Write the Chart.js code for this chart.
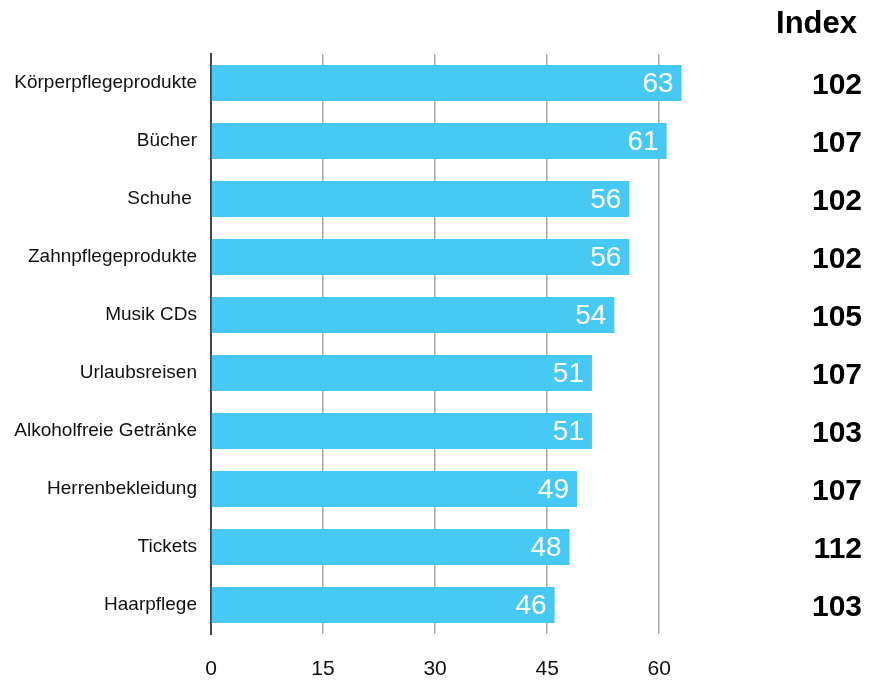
<!DOCTYPE html>
<html>
<head>
<meta charset="utf-8">
<script src="https://cdn.jsdelivr.net/npm/chart.js@4/dist/chart.umd.min.js"></script>
<style>
    html, body { margin: 0; padding: 0; background: #fff; }
    #wrap { width: 870px; height: 680px; }
</style>
</head>
<body>
<div id="wrap"><canvas id="myChart"></canvas></div>
<script>
const categories = [
    'Körperpflegeprodukte',
    'Bücher',
    'Schuhe ',
    'Zahnpflegeprodukte',
    'Musik CDs',
    'Urlaubsreisen',
    'Alkoholfreie Getränke',
    'Herrenbekleidung',
    'Tickets',
    'Haarpflege',
];
const shares = [63, 61, 56, 56, 54, 51, 51, 49, 48, 46];
const indexValues = [102, 107, 102, 102, 105, 107, 103, 107, 112, 103];
const xTicks = [0, 15, 30, 45, 60];
const indexTitle = 'Index';

const FONT = '"Liberation Sans", Arial, sans-serif';

/**
 * Writes the values into the bars and the index column on the right.
 */
const labelPlugin = {
    id: 'labels',
    afterDatasetsDraw: (chart) => {
        const ctx = chart.ctx;
        const meta = chart.getDatasetMeta(0);
        const yScale = chart.scales.y;

        ctx.save();
        ctx.textBaseline = 'middle';

        ctx.font = '28px ' + FONT;
        ctx.fillStyle = '#ffffff';
        ctx.textAlign = 'right';
        meta.data.forEach((bar, i) => {
            ctx.fillText(String(shares[i]), bar.x - 8, bar.y + 1);
        });

        ctx.font = 'bold 30px ' + FONT;
        ctx.fillStyle = '#000000';
        indexValues.forEach((value, i) => {
            ctx.fillText(String(value), 862, yScale.getPixelForValue(i) + 3);
        });

        ctx.font = 'bold 31px ' + FONT;
        ctx.fillText(indexTitle, 857, 24);
        ctx.restore();
    },
};

const createChart = () => {
    const config = {
        type: 'bar',
        data: {
            labels: categories,
            datasets: [
                {
                    data: shares,
                    backgroundColor: '#47c9f5',
                    borderWidth: 0,
                    barPercentage: 0.62,
                    categoryPercentage: 1,
                },
            ],
        },
        options: {
            indexAxis: 'y',
            responsive: true,
            maintainAspectRatio: false,
            animation: false,
            layout: {
                padding: { top: 54, right: 166, bottom: 0, left: 0 },
            },
            plugins: {
                legend: { display: false },
                tooltip: { enabled: false },
            },
            scales: {
                x: {
                    min: 0,
                    max: 66,
                    afterBuildTicks: (scale) => {
                        scale.ticks = xTicks.map((v) => ({ value: v }));
                    },
                    afterFit: (scale) => {
                        scale.height = 46;
                    },
                    border: { display: false },
                    grid: {
                        drawTicks: false,
                        color: (c) => (c.tick && c.tick.value === 0 ? 'rgba(0,0,0,0)' : '#a8a8a8'),
                        lineWidth: 1.5,
                    },
                    ticks: {
                        padding: 23,
                        color: '#111',
                        font: { family: FONT, size: 21 },
                    },
                },
                y: {
                    afterFit: (scale) => {
                        scale.width = 211;
                    },
                    border: { display: true, color: '#444', width: 2 },
                    grid: { display: false, drawTicks: false },
                    ticks: {
                        padding: 14,
                        color: '#111',
                        font: { family: FONT, size: 19 },
                    },
                },
            },
        },
        plugins: [labelPlugin],
    };

    return new Chart(document.getElementById('myChart'), config);
};

createChart();
</script>
</body>
</html>
